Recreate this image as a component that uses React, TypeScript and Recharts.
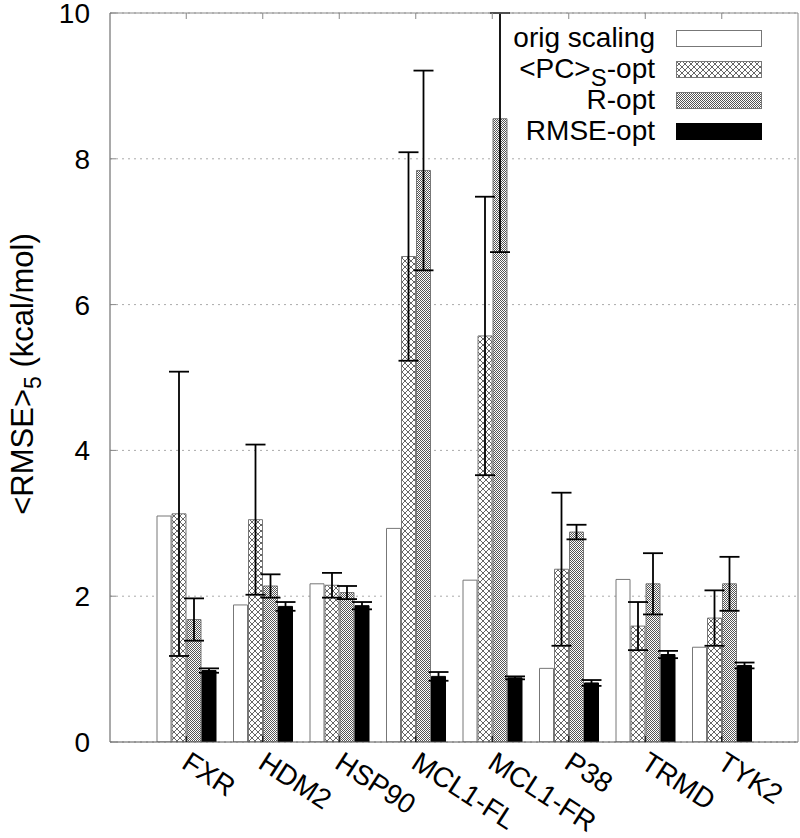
import { BarChart, Bar, XAxis, YAxis, CartesianGrid, ErrorBar, Legend } from 'recharts';

// values
const categories = ['FXR', 'HDM2', 'HSP90', 'MCL1-FL', 'MCL1-FR', 'P38', 'TRMD', 'TYK2'];
const origScaling = [3.10, 1.88, 2.17, 2.93, 2.22, 1.01, 2.23, 1.30];
const pcOpt = [3.13, 3.05, 2.15, 6.66, 5.57, 2.37, 1.59, 1.70];
const pcErr = [1.95, 1.03, 0.17, 1.43, 1.91, 1.05, 0.33, 0.38];
const rOpt = [1.68, 2.14, 2.05, 7.84, 8.55, 2.88, 2.17, 2.17];
const rErr = [0.29, 0.16, 0.09, 1.37, 1.83, 0.10, 0.42, 0.37];
const rmseOpt = [0.98, 1.86, 1.87, 0.90, 0.88, 0.81, 1.20, 1.05];
const rmseErr = [0.03, 0.06, 0.05, 0.06, 0.02, 0.04, 0.05, 0.04];
const yTicks = [0, 2, 4, 6, 8, 10];
const Y_MAX = 10;

// error bars are cut at the top of the plot, like the reference
const clipErr = (v: number, e: number) => [e, Math.min(e, Y_MAX - v)];

const data = categories.map((name, i) => ({
  name,
  orig: origScaling[i],
  pc: pcOpt[i],
  pcErr: clipErr(pcOpt[i], pcErr[i]),
  r: rOpt[i],
  rErr: clipErr(rOpt[i], rErr[i]),
  rmse: rmseOpt[i],
  rmseErr: clipErr(rmseOpt[i], rmseErr[i]),
}));

const FONT = '"Liberation Sans", Arial, Helvetica, sans-serif';
const FS = 28;

const BottomTick = ({ x, y, payload }: any) => (
  <g>
    <line x1={x} y1={y} x2={x} y2={y - 6} stroke="#000" strokeWidth={1} />
    <text
      x={x + 5}
      y={y + 8}
      dy="0.72em"
      textAnchor="start"
      fontSize={FS}
      fontFamily={FONT}
      fill="#000"
      transform={`rotate(33, ${x + 5}, ${y + 8})`}
    >
      {payload.value}
    </text>
  </g>
);

const TopTick = ({ x, y }: any) => (
  <line x1={x} y1={y} x2={x} y2={y + 6} stroke="#888" strokeWidth={1} />
);

const LeftTick = ({ x, y, payload }: any) => (
  <g>
    <line x1={x} y1={y} x2={x + 6} y2={y} stroke="#888" strokeWidth={1} />
    <text x={x - 20} y={y} dy="0.36em" textAnchor="end" fontSize={FS} fontFamily={FONT} fill="#000">
      {payload.value}
    </text>
  </g>
);

const YLabel = () => (
  <text
    x={33}
    y={374}
    textAnchor="middle"
    fontSize={31}
    fontFamily={FONT}
    fill="#000"
    transform="rotate(-90, 33, 374)"
  >
    {'<RMSE>'}
    <tspan dy={8} fontSize={23}>5</tspan>
    <tspan dy={-8}> (kcal/mol)</tspan>
  </text>
);

const legendItems = [
  { label: 'orig scaling', fill: '#fff', stroke: '#777' },
  { label: 'PC', fill: 'url(#cross)', stroke: '#777' },
  { label: 'R-opt', fill: 'url(#checker)', stroke: '#777' },
  { label: 'RMSE-opt', fill: '#000', stroke: '#000' },
];

const LegendBox = () => (
  <div style={{ position: 'relative', width: 800, height: 150, fontFamily: FONT, fontSize: FS }}>
    {legendItems.map((it, i) => (
      <div key={i} style={{ position: 'absolute', top: 38 + i * 31 - 16, left: 0, width: 800, height: 32 }}>
        <div style={{ position: 'absolute', right: 800 - 655, top: 0, lineHeight: '32px', whiteSpace: 'nowrap', color: '#000' }}>
          {it.label === 'PC' ? (
            <span>
              {'<PC>'}
              <span style={{ fontSize: 24, position: 'relative', top: 8 }}>S</span>-opt
            </span>
          ) : (
            it.label
          )}
        </div>
        <svg style={{ position: 'absolute', left: 676, top: 8 }} width={86} height={17}>
          <rect x={0.5} y={0.5} width={85} height={16} fill={it.fill} stroke={it.stroke} strokeWidth={1} />
        </svg>
      </div>
    ))}
  </div>
);

export default function App() {
  return (
    <div style={{ position: 'absolute', left: 0, top: 0, width: 800, height: 838, background: '#fff' }}>
      <BarChart
        width={800}
        height={838}
        data={data}
        margin={{ top: 12, right: 1, left: 0, bottom: 0 }}
        barSize={14}
        barGap={1}
      >
        <defs>
          <pattern id="cross" width="6" height="6" patternUnits="userSpaceOnUse">
            <rect width="6" height="6" fill="#fff" />
            <path d="M0,0 L6,6 M6,0 L0,6" stroke="#666" strokeWidth={1} />
          </pattern>
          <pattern id="checker" width="2" height="2" patternUnits="userSpaceOnUse">
            <rect width="2" height="2" fill="#fff" />
            <rect width="1" height="1" fill="#555" />
            <rect x="1" y="1" width="1" height="1" fill="#555" />
          </pattern>
        </defs>
        <CartesianGrid vertical={false} stroke="#aaa" strokeDasharray="2 4" />
        <XAxis
          dataKey="name"
          height={96}
          padding={{ left: 38, right: 38 }}
          tickLine={false}
          tickSize={0}
          tickMargin={0}
          tick={<BottomTick />}
          interval={0}
          axisLine={{ stroke: '#555' }}
        />
        <XAxis
          xAxisId="top"
          dataKey="name"
          orientation="top"
          height={1}
          padding={{ left: 38, right: 38 }}
          tickLine={false}
          tickSize={0}
          tickMargin={0}
          tick={<TopTick />}
          interval={0}
          axisLine={{ stroke: '#888' }}
        />
        <YAxis
          width={110}
          domain={[0, Y_MAX]}
          ticks={yTicks}
          allowDataOverflow
          tickLine={false}
          tickSize={0}
          tickMargin={0}
          tick={<LeftTick />}
          axisLine={{ stroke: '#555' }}
          label={<YLabel />}
        />
        <YAxis
          yAxisId="right"
          orientation="right"
          width={1}
          domain={[0, Y_MAX]}
          tick={false}
          tickLine={false}
          axisLine={{ stroke: '#888' }}
        />
        <Legend
          layout="vertical"
          align="center"
          verticalAlign="middle"
          content={<LegendBox />}
          wrapperStyle={{ position: 'absolute', left: 0, top: 0, width: 800, height: 150 }}
        />
        <Bar dataKey="orig" fill="#fff" stroke="#777" strokeWidth={1} isAnimationActive={false} />
        <Bar dataKey="pc" fill="url(#cross)" stroke="#777" strokeWidth={1} isAnimationActive={false}>
          <ErrorBar dataKey="pcErr" width={10} stroke="#000" strokeWidth={1.8} />
        </Bar>
        <Bar dataKey="r" fill="url(#checker)" stroke="#777" strokeWidth={1} isAnimationActive={false}>
          <ErrorBar dataKey="rErr" width={10} stroke="#000" strokeWidth={1.8} />
        </Bar>
        <Bar dataKey="rmse" fill="#000" stroke="#000" strokeWidth={1} isAnimationActive={false}>
          <ErrorBar dataKey="rmseErr" width={10} stroke="#000" strokeWidth={1.8} />
        </Bar>
      </BarChart>
    </div>
  );
}
